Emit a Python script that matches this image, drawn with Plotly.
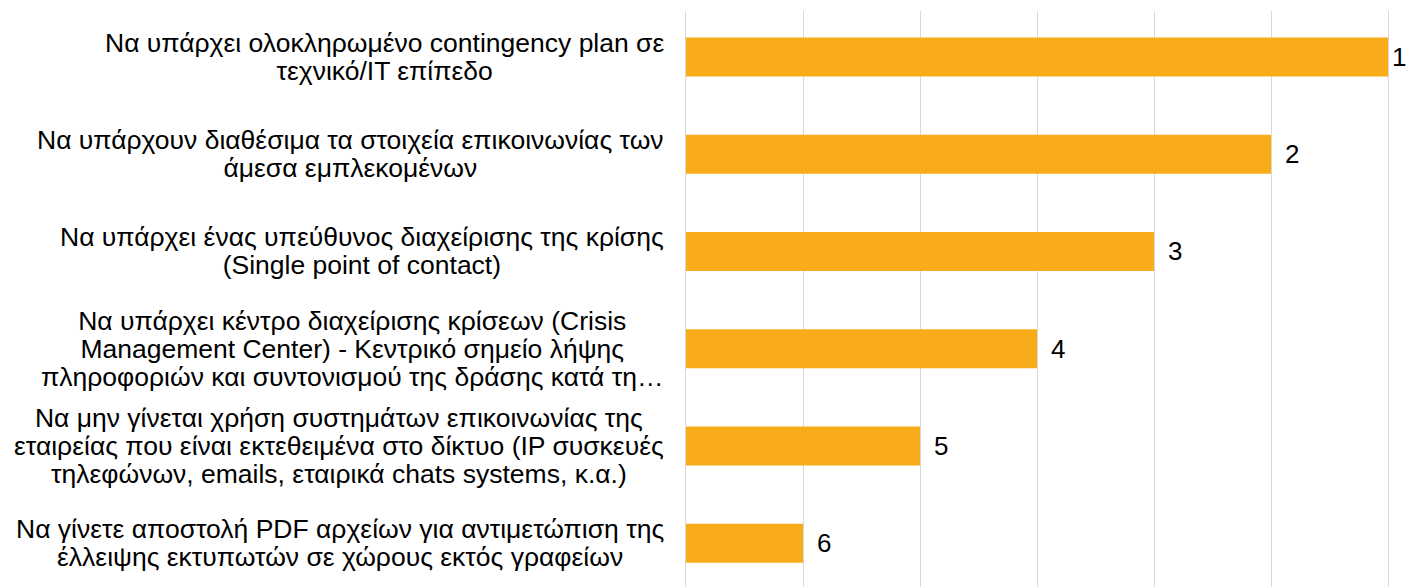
import plotly.graph_objects as go

# categories (top to bottom) and their scores / rank labels
labels = [
    "Να υπάρχει ολοκληρωμένο contingency plan σε<br>τεχνικό/IT επίπεδο",
    "Να υπάρχουν διαθέσιμα τα στοιχεία επικοινωνίας των<br>άμεσα εμπλεκομένων",
    "Να υπάρχει ένας υπεύθυνος διαχείρισης της κρίσης<br>(Single point of contact)",
    "Να υπάρχει κέντρο διαχείρισης κρίσεων (Crisis<br>Management Center) - Κεντρικό σημείο λήψης<br>πληροφοριών και συντονισμού της δράσης κατά τη…",
    "Να μην γίνεται χρήση συστημάτων επικοινωνίας της<br>εταιρείας που είναι εκτεθειμένα στο δίκτυο (IP συσκευές<br>τηλεφώνων, emails, εταιρικά chats systems, κ.α.)",
    "Να γίνετε αποστολή PDF αρχείων για αντιμετώπιση της<br>έλλειψης εκτυπωτών σε χώρους εκτός γραφείων",
]
scores = [6, 5, 4, 3, 2, 1]
ranks = ["1", "2", "3", "4", "5", "6"]

FONT = "Liberation Sans, Arial, sans-serif"
GRID = "#D9D9D9"

fig = go.Figure(go.Bar(
    x=scores,
    y=labels,
    orientation="h",
    marker=dict(color="#F9AC1A", line=dict(width=0)),
    width=0.4,
    hoverinfo="skip",
))

# rank labels next to bar ends (pulled in for the longest bar so it stays on the page)
for lab, s, r in zip(labels, scores, ranks):
    fig.add_annotation(x=s, y=lab, text=r, showarrow=False, xanchor="left",
                       xshift=2 if s == max(scores) else 12,
                       font=dict(size=26, color="black", family=FONT))

# category labels: centered lines, block right aligned; base size sets the tighter line spacing
for lab in labels:
    txt = "<br>".join("<span style='font-size:26.5px'>%s</span>" % ln for ln in lab.split("<br>"))
    fig.add_annotation(x=0, y=lab, text=txt, showarrow=False, xanchor="right",
                       xshift=-20, align="center",
                       font=dict(size=21.5, color="black", family=FONT))

fig.update_layout(
    width=1406, height=587,
    margin=dict(l=686, r=18, t=11, b=0),
    plot_bgcolor="white", paper_bgcolor="white",
    showlegend=False,
    xaxis=dict(range=[0, 6], dtick=1, showgrid=True, gridcolor=GRID,
               gridwidth=1, showticklabels=False, zeroline=False, showline=False),
    # left/right edge lines stand in for the gridlines at 0 and 6
    yaxis=dict(range=[5.45, -0.473], showticklabels=False, showgrid=False,
               zeroline=False, showline=True, mirror=True, linecolor=GRID,
               linewidth=1),
)

fig.write_html("out.html", config={"displayModeBar": False},
               post_script="document.body.style.margin='0';")
